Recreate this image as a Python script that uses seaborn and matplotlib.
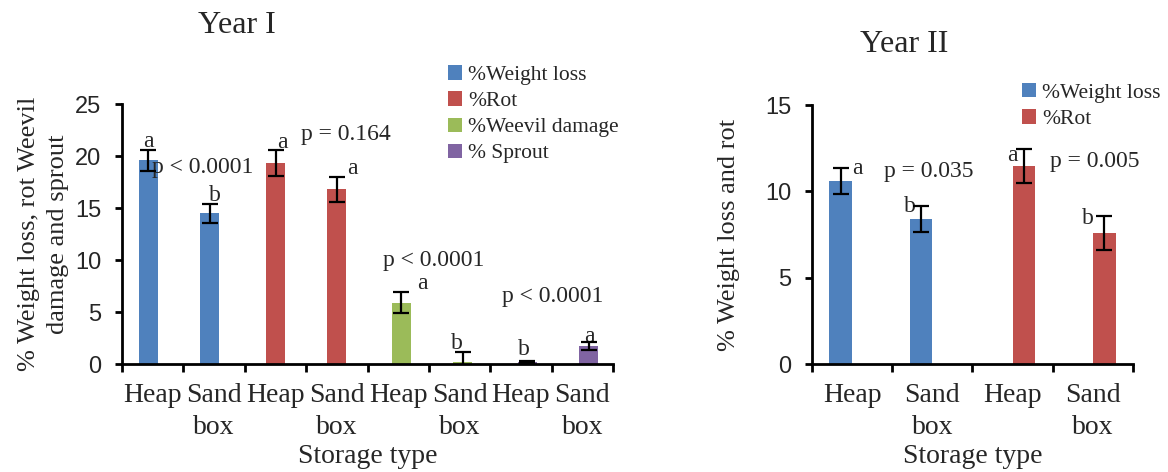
import matplotlib
matplotlib.use("Agg")
import matplotlib.pyplot as plt
import seaborn as sns
import pandas as pd
from matplotlib.ticker import FixedLocator, NullFormatter
from matplotlib.patches import Patch
from matplotlib.container import BarContainer

# ---------------- data ----------------
# Year I
y1_keys = ["WL Heap", "WL Sand", "Rot Heap", "Rot Sand", "Wv Heap", "Wv Sand", "Sp Heap", "Sp Sand"]
y1_series = ["%Weight loss", "%Weight loss", "%Rot", "%Rot",
             "%Weevil damage", "%Weevil damage", "% Sprout", "% Sprout"]
y1_values = [19.6, 14.5, 19.3, 16.8, 5.9, 0.2, 0.2, 1.7]
y1_errors = [1.0, 0.9, 1.25, 1.2, 1.0, 1.0, 0.1, 0.4]
y1_ticklabels = ["Heap", "Sand\nbox", "Heap", "Sand\nbox", "Heap", "Sand\nbox", "Heap", "Sand\nbox"]
y1_hue_order = ["%Weight loss", "%Rot", "%Weevil damage", "% Sprout"]
y1_letters = ["a", "b", "a", "a", "a", "b", "b", "a"]
y1_pvalues = ["p < 0.0001", "p = 0.164", "p < 0.0001", "p < 0.0001"]

# Year II
y2_keys = ["Heap A", "Sand A", "Heap B", "Sand B"]
y2_series = ["%Weight loss", "%Weight loss", "%Rot", "%Rot"]
y2_values = [10.6, 8.4, 11.45, 7.6]
y2_errors = [0.75, 0.77, 0.98, 1.0]
y2_ticklabels = ["Heap", "Sand\nbox", "Heap", "Sand\nbox"]
y2_hue_order = ["%Weight loss", "%Rot"]
y2_letters = ["a", "b", "a", "b"]
y2_pvalues = ["p = 0.035", "p = 0.005"]

colors = {"%Weight loss": "#4F81BD", "%Rot": "#C0504D",
          "%Weevil damage": "#9BBB59", "% Sprout": "#8064A2"}

SERIF = "Liberation Serif"
SANS = "Liberation Sans"

sns.set_style("white")
plt.rcParams["font.family"] = [SERIF, "DejaVu Serif"]

fig = plt.figure(figsize=(11.68, 4.72), dpi=100)
ax1 = fig.add_axes([0.1045, 0.2288, 0.4204, 0.5508])
ax2 = fig.add_axes([0.6952, 0.2288, 0.2748, 0.5487])

df1 = pd.DataFrame({"cat": y1_keys, "series": y1_series, "value": y1_values, "err": y1_errors})
df2 = pd.DataFrame({"cat": y2_keys, "series": y2_series, "value": y2_values, "err": y2_errors})


def bar_patches(ax):
    out = []
    for cont in list(ax.containers):
        if isinstance(cont, BarContainer):
            out.append([p for p in cont if p is not None])
    return out


# ---- Year I bars ----
sns.barplot(data=df1, x="cat", y="value", hue="series", order=y1_keys, hue_order=y1_hue_order,
            palette=colors, dodge=False, width=0.31, errorbar=None, legend=False,
            linewidth=0, saturation=1, ax=ax1)
shift1 = {"%Weight loss": -0.07, "%Rot": 0.0, "%Weevil damage": 0.05, "% Sprout": 0.1}
groups1 = bar_patches(ax1)
for patches, s in zip(groups1, y1_hue_order):
    for p in patches:
        p.set_x(p.get_x() + shift1[s])
for patches in groups1:
    for p in patches:
        cx = p.get_x() + p.get_width() / 2
        idx = int(round(cx))
        ax1.errorbar(cx, y1_values[idx], yerr=y1_errors[idx], fmt="none", ecolor="black",
                     elinewidth=1.6, capsize=5.5, capthick=1.6, zorder=5)

# ---- Year II bars ----
sns.barplot(data=df2, x="cat", y="value", hue="series", order=y2_keys, hue_order=y2_hue_order,
            palette=colors, dodge=True, width=0.566, errorbar=None, legend=False,
            linewidth=0, saturation=1, ax=ax2)
for patches in bar_patches(ax2):
    for p in patches:
        h = p.get_height()
        if h is None or pd.isna(h) or h <= 0:
            continue
        cx = p.get_x() + p.get_width() / 2
        idx = int(round(cx))
        ax2.errorbar(cx, y2_values[idx], yerr=y2_errors[idx], fmt="none", ecolor="black",
                     elinewidth=1.6, capsize=5.5, capthick=1.6, zorder=5)


# ---- axes styling ----
def style(ax, n, ymax, step, ticklabels):
    ax.set_xlim(-0.5, n - 0.5)
    ax.set_ylim(0, ymax)
    ax.set_yticks(range(0, ymax + 1, step))
    ax.set_xticks(range(n))
    ax.set_xticklabels(ticklabels, fontsize=20, family=SERIF, linespacing=1.35)
    ax.xaxis.set_minor_locator(FixedLocator([i - 0.5 for i in range(n + 1)]))
    ax.xaxis.set_minor_formatter(NullFormatter())
    ax.tick_params(axis="x", which="major", length=0, pad=14)
    ax.tick_params(axis="x", which="minor", length=6, width=2, color="black", direction="out", bottom=True)
    ax.tick_params(axis="y", which="major", length=5, width=2, color="black", direction="out",
                   left=True, pad=10, labelsize=17)
    for lab in ax.get_yticklabels():
        lab.set_family(SANS)
    for side in ["top", "right"]:
        ax.spines[side].set_visible(False)
    for side in ["left", "bottom"]:
        ax.spines[side].set_color("black")
        ax.spines[side].set_linewidth(2)
    ax.set_xlabel("Storage type", fontsize=20, family=SERIF, labelpad=3)
    ax.grid(False)


style(ax1, 8, 25, 5, y1_ticklabels)
style(ax2, 4, 15, 5, y2_ticklabels)

ax1.set_ylabel("% Weight loss, rot Weevil\ndamage and sprout", fontsize=19, family=SERIF,
               linespacing=1.45, labelpad=4)
ax2.set_ylabel("% Weight loss and rot", fontsize=19, family=SERIF, labelpad=18)

fig.text(0.203, 0.945, "Year I", fontsize=23, family=SERIF, ha="center", va="center")
fig.text(0.774, 0.905, "Year II", fontsize=23, family=SERIF, ha="center", va="center")

# ---- annotations ----
fs = 17
y1_letter_pos = [(-0.07, 21.4), (1.02, 16.2), (2.12, 21.3), (3.25, 18.8),
                 (4.39, 7.7), (4.95, 2.0), (6.04, 1.35), (7.11, 2.6)]
for (x, y), t in zip(y1_letter_pos, y1_letters):
    ax1.text(x, y, t, fontsize=fs, ha="center", va="center", family=SERIF)
y1_p_pos = [(0.82, 18.9), (3.14, 22.1), (4.58, 10.0), (6.52, 6.5)]
for (x, y), t in zip(y1_p_pos, y1_pvalues):
    ax1.text(x, y, t, fontsize=fs, ha="center", va="center", family=SERIF)

y2_letter_pos = [(0.06, 11.35), (0.72, 9.1), (2.0, 12.1), (2.94, 8.4)]
for (x, y), t in zip(y2_letter_pos, y2_letters):
    ax2.text(x, y, t, fontsize=fs, ha="center", va="center", family=SERIF)
y2_p_pos = [(0.96, 11.15), (3.03, 11.7)]
for (x, y), t in zip(y2_p_pos, y2_pvalues):
    ax2.text(x, y, t, fontsize=fs, ha="center", va="center", family=SERIF)


# ---- legends ----
def legend(names, anchor):
    handles = [Patch(facecolor=colors[n], edgecolor="none") for n in names]
    fig.legend(handles, names, loc="upper left", bbox_to_anchor=anchor, frameon=False,
               prop={"family": SERIF, "size": 15.5}, handlelength=0.65, handleheight=0.65,
               handletextpad=0.3, labelspacing=0.3, borderpad=0, borderaxespad=0)


legend(y1_hue_order, (0.3836, 0.862))
legend(y2_hue_order, (0.8750, 0.824))

fig.savefig("out.png", dpi=100)
